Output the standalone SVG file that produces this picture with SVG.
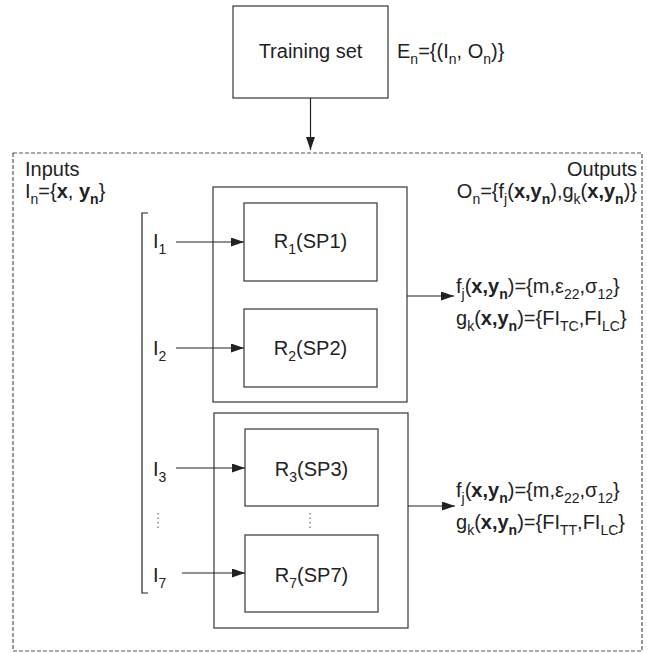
<svg xmlns="http://www.w3.org/2000/svg" width="651" height="653" viewBox="0 0 651 653">
<style>
text{font-family:"Liberation Sans",Arial,sans-serif;font-size:20px;fill:#222}
.sub{font-size:14px}
.b{font-weight:bold}
.box{fill:none;stroke:#444;stroke-width:1.3}
.ln{stroke:#222;stroke-width:1.2;fill:none}
.dash{fill:none;stroke:#555;stroke-width:1.2;stroke-dasharray:4 2}
.dots{stroke:#444;stroke-width:1;stroke-dasharray:1.5 3}
</style>
<defs>
<marker id="ah" viewBox="0 0 13 9" refX="13" refY="4.5" markerWidth="13" markerHeight="9" markerUnits="userSpaceOnUse" orient="auto">
<path d="M0,0 L13,4.5 L0,9 Z" fill="#222"/>
</marker>
</defs>
<rect width="651" height="653" fill="#fff"/>

<g id="training">
<rect class="box" x="233" y="6" width="155" height="92"/>
<text x="310.5" y="58" text-anchor="middle">Training set</text>
<text x="397" y="58">E<tspan class="sub" dy="6">n</tspan><tspan dy="-6">={(I</tspan><tspan class="sub" dy="6">n</tspan><tspan dy="-6">, O</tspan><tspan class="sub" dy="6">n</tspan><tspan dy="-6">)}</tspan></text>
</g>

<g id="system">
<rect class="dash" x="13" y="153" width="629" height="498"/>
<text x="25" y="176">Inputs</text>
<text x="25" y="198">I<tspan class="sub" dy="6">n</tspan><tspan dy="-6">={</tspan><tspan class="b">x</tspan><tspan>, </tspan><tspan class="b">y</tspan><tspan class="sub b" dy="6">n</tspan><tspan dy="-6">}</tspan></text>
<text x="637" y="176" text-anchor="end">Outputs</text>
<text x="637" y="198" text-anchor="end">O<tspan class="sub" dy="6">n</tspan><tspan dy="-6">={f</tspan><tspan class="sub" dy="6">j</tspan><tspan dy="-6">(</tspan><tspan class="b">x,y</tspan><tspan class="sub b" dy="6">n</tspan><tspan dy="-6">),g</tspan><tspan class="sub" dy="6">k</tspan><tspan dy="-6">(</tspan><tspan class="b">x,y</tspan><tspan class="sub b" dy="6">n</tspan><tspan dy="-6">)}</tspan></text>
</g>

<g id="bracket">
<path class="ln" d="M148,213 H142 V593 H148"/>
<text x="153" y="248">I<tspan class="sub" dy="6">1</tspan></text>
<text x="153" y="355">I<tspan class="sub" dy="6">2</tspan></text>
<text x="153" y="476">I<tspan class="sub" dy="6">3</tspan></text>
<text x="153" y="582">I<tspan class="sub" dy="6">7</tspan></text>
<line class="dots" x1="158" y1="513" x2="158" y2="529"/>
</g>

<g id="group1">
<rect class="box" x="213" y="187" width="194" height="215"/>
</g>
<g id="R1">
<rect class="box" x="244" y="203" width="133" height="78"/>
<text x="310.5" y="248" text-anchor="middle">R<tspan class="sub" dy="6">1</tspan><tspan dy="-6">(SP1)</tspan></text>
</g>
<g id="R2">
<rect class="box" x="244" y="309" width="133" height="78"/>
<text x="310.5" y="355" text-anchor="middle">R<tspan class="sub" dy="6">2</tspan><tspan dy="-6">(SP2)</tspan></text>
</g>

<g id="group2">
<rect class="box" x="214" y="413" width="194" height="215"/>
<line class="dots" x1="310" y1="513" x2="310" y2="529"/>
</g>
<g id="R3">
<rect class="box" x="245" y="429" width="133" height="77"/>
<text x="311.5" y="476" text-anchor="middle">R<tspan class="sub" dy="6">3</tspan><tspan dy="-6">(SP3)</tspan></text>
</g>
<g id="R7">
<rect class="box" x="245" y="535" width="133" height="77"/>
<text x="311.5" y="582" text-anchor="middle">R<tspan class="sub" dy="6">7</tspan><tspan dy="-6">(SP7)</tspan></text>
</g>

<g id="out1">
<text x="456" y="293">f<tspan class="sub" dy="6">j</tspan><tspan dy="-6">(</tspan><tspan class="b">x,y</tspan><tspan class="sub b" dy="6">n</tspan><tspan dy="-6">)={m,ε</tspan><tspan class="sub" dy="6">22</tspan><tspan dy="-6">,σ</tspan><tspan class="sub" dy="6">12</tspan><tspan dy="-6">}</tspan></text>
<text x="456" y="325">g<tspan class="sub" dy="6">k</tspan><tspan dy="-6">(</tspan><tspan class="b">x,y</tspan><tspan class="sub b" dy="6">n</tspan><tspan dy="-6">)={FI</tspan><tspan class="sub" dy="6">TC</tspan><tspan dy="-6">,FI</tspan><tspan class="sub" dy="6">LC</tspan><tspan dy="-6">}</tspan></text>
</g>
<g id="out2">
<text x="456" y="497">f<tspan class="sub" dy="6">j</tspan><tspan dy="-6">(</tspan><tspan class="b">x,y</tspan><tspan class="sub b" dy="6">n</tspan><tspan dy="-6">)={m,ε</tspan><tspan class="sub" dy="6">22</tspan><tspan dy="-6">,σ</tspan><tspan class="sub" dy="6">12</tspan><tspan dy="-6">}</tspan></text>
<text x="456" y="529">g<tspan class="sub" dy="6">k</tspan><tspan dy="-6">(</tspan><tspan class="b">x,y</tspan><tspan class="sub b" dy="6">n</tspan><tspan dy="-6">)={FI</tspan><tspan class="sub" dy="6">TT</tspan><tspan dy="-6">,FI</tspan><tspan class="sub" dy="6">LC</tspan><tspan dy="-6">}</tspan></text>
</g>

<g id="connectors">
<line class="ln" x1="310.5" y1="98" x2="310.5" y2="150" marker-end="url(#ah)"/>
<line class="ln" x1="176" y1="242" x2="244" y2="242" marker-end="url(#ah)"/>
<line class="ln" x1="176" y1="348" x2="244" y2="348" marker-end="url(#ah)"/>
<line class="ln" x1="176" y1="468" x2="245" y2="468" marker-end="url(#ah)"/>
<line class="ln" x1="182" y1="573" x2="245" y2="573" marker-end="url(#ah)"/>
<line class="ln" x1="407" y1="296" x2="454" y2="296" marker-end="url(#ah)"/>
<line class="ln" x1="408" y1="506" x2="455" y2="506" marker-end="url(#ah)"/>
</g>
</svg>
